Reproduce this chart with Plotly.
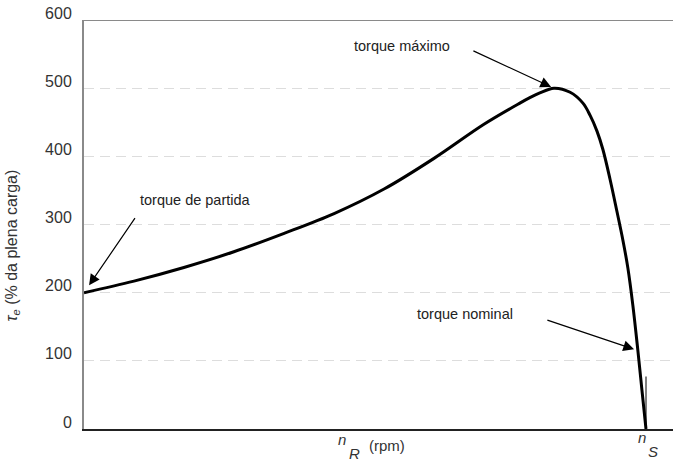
import plotly.graph_objects as go

# Torque-speed characteristic of an induction motor
speed_rpm = [0, 160, 320, 480, 641, 801, 961, 1121, 1281, 1396, 1428, 1460,
             1505, 1557, 1598, 1621, 1643, 1662, 1685, 1707, 1726, 1742,
             1758, 1774, 1787, 1800]
torque_pct = [200, 217, 237, 260, 287, 316, 352, 397, 447, 478, 486, 493,
              500, 494, 478, 460, 437, 410, 366, 319, 277, 236,
              181, 115, 57, 0]
sync_speed = 1800
rated_idx = 23  # operating point marked as "torque nominal"
y_ticks = [0, 100, 200, 300, 400, 500, 600]
y_tick_text = ["0", "100", "200", "300", "400", "500", "600"]

FONT = "Liberation Sans, Arial, sans-serif"
TXT = "#222222"

fig = go.Figure()
fig.add_trace(go.Scatter(
    x=speed_rpm, y=torque_pct, mode="lines",
    line=dict(color="black", width=3, shape="spline", smoothing=1),
    hoverinfo="skip", showlegend=False,
))

x_max = sync_speed * 589 / 562

fig.update_layout(
    width=673, height=461,
    margin=dict(l=84, r=0, t=20, b=32),
    paper_bgcolor="white", plot_bgcolor="white",
    font=dict(family=FONT, color=TXT),
    showlegend=False,
    xaxis=dict(range=[0, x_max], showticklabels=False, ticks="",
               showgrid=False, zeroline=False,
               showline=True, linecolor="#222222", linewidth=1.5),
    yaxis=dict(range=[0, 600], tickvals=y_ticks, ticktext=y_tick_text,
               ticks="", ticklabelstandoff=7, ticklabelshift=-7,
               tickfont=dict(size=16, color="#333333", family=FONT),
               showgrid=True, gridcolor="#dddddd", gridwidth=1,
               griddash="10px,6px", zeroline=False,
               showline=True, linecolor="#8a8a8a", linewidth=2),
)

# top border of the frame
fig.add_shape(type="line", xref="paper", yref="y", x0=0, x1=1, y0=600, y1=600,
              line=dict(color="#8a8a8a", width=2))

# marker at synchronous speed
fig.add_shape(type="line", xref="x", yref="y", x0=sync_speed, x1=sync_speed,
              y0=0, y1=77, line=dict(color="black", width=1))

# arrow annotations
peak_i = torque_pct.index(max(torque_pct))
arrow_style = dict(showarrow=True, arrowhead=2, arrowsize=1.8, arrowwidth=1.2,
                   arrowcolor="black", text="", axref="pixel", ayref="pixel")
fig.add_annotation(x=speed_rpm[0], y=torque_pct[0], ax=52, ay=-76,
                   standoff=9, **arrow_style)
fig.add_annotation(x=speed_rpm[peak_i], y=torque_pct[peak_i], ax=-82, ay=-38,
                   standoff=3, **arrow_style)
fig.add_annotation(x=speed_rpm[rated_idx], y=torque_pct[rated_idx], ax=-92, ay=-31,
                   standoff=4, **arrow_style)

label_font = dict(size=14.5, color=TXT, family=FONT)
fig.add_annotation(text="torque de partida", x=(195 - 84) * x_max / 589,
                   y=(428.5 - 200) / 0.681, xref="x", yref="y",
                   showarrow=False, font=label_font)
fig.add_annotation(text="torque máximo", x=(402 - 84) * x_max / 589,
                   y=(428.5 - 46) / 0.681, xref="x", yref="y",
                   showarrow=False, font=label_font)
fig.add_annotation(text="torque nominal", x=(465 - 84) * x_max / 589,
                   y=(428.5 - 314) / 0.681, xref="x", yref="y",
                   showarrow=False, font=label_font)

# axis titles
axis_font = dict(size=15, color="#333333", family=FONT)
fig.add_annotation(text="<i>τ</i><sub><i>e</i></sub> (% da plena carga)",
                   textangle=-90, xref="paper", yref="paper", x=0, xshift=-72,
                   y=(428.5 - 245) / 409, xanchor="center", yanchor="middle",
                   showarrow=False, font=dict(size=16, color="#333333", family=FONT))
fig.add_annotation(text="<i>n</i>", xref="x", yref="paper", x=826, y=0,
                   yshift=-10, yanchor="middle", showarrow=False, font=axis_font)
fig.add_annotation(text="<i>R</i>", xref="x", yref="paper", x=866, y=0,
                   yshift=-24, yanchor="middle", showarrow=False, font=axis_font)
fig.add_annotation(text="(rpm)", xref="x", yref="paper", x=970, y=0,
                   yshift=-16, yanchor="middle", showarrow=False, font=axis_font)
fig.add_annotation(text="<i>n</i>", xref="x", yref="paper", x=1787, y=0,
                   yshift=-8, yanchor="middle", showarrow=False, font=axis_font)
fig.add_annotation(text="<i>S</i>", xref="x", yref="paper", x=1824, y=0,
                   yshift=-22, yanchor="middle", showarrow=False, font=axis_font)

fig.write_html("out.html")
